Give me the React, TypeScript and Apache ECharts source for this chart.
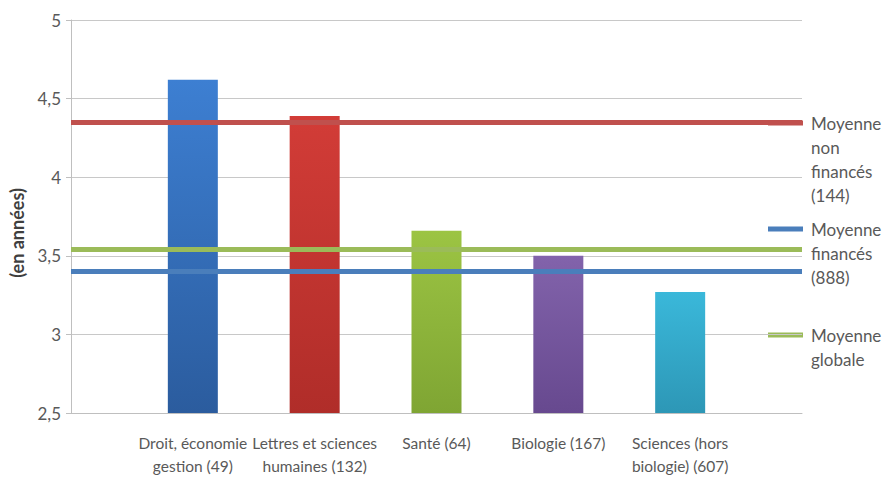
import React, { useEffect, useRef } from "react";
import * as echarts from "echarts";

const categories = [
  "Droit, économie\ngestion (49)",
  "Lettres et sciences\nhumaines (132)",
  "Santé (64)",
  "Biologie (167)",
  "Sciences (hors\nbiologie) (607)",
];
const durations = [4.62, 4.39, 3.66, 3.5, 3.27];
const barTopColors = ["#3d7fd2", "#d23c37", "#9cc443", "#8263ab", "#3ab8da"];
const barBottomColors = ["#2b5c9e", "#b02d29", "#7fa533", "#67498f", "#2d97b6"];

const averageNames = ["Moyenne non financés (144)", "Moyenne financés (888)", "Moyenne globale"];
const averageLegendLines = [
  ["Moyenne", "non", "financés", "(144)"],
  ["Moyenne", "financés", "(888)"],
  ["Moyenne", "globale"],
];
const averageValues = [4.35, 3.405, 3.535];
const averageColors = ["#c0504d", "#4a7ebb", "#9bbb59"];

const yTicks = { min: 2.5, max: 5, interval: 0.5 };
const yAxisTitle = "(en années)";

const TEXT = "#595959";
const FONT = "Lato, 'Open Sans', sans-serif";

export default function App() {
  const ref = useRef<HTMLDivElement>(null);
  useEffect(() => {
    if (!ref.current) return;
    const chart = echarts.init(ref.current, undefined, { renderer: "svg" });
    const axisCats = ["", ...categories, ""];
    const barData: any[] = ["-"];
    durations.forEach((v, i) =>
      barData.push({
        value: v,
        itemStyle: {
          color: new echarts.graphic.LinearGradient(0, 0, 0, 1, [
            { offset: 0, color: barTopColors[i] },
            { offset: 1, color: barBottomColors[i] },
          ]),
        },
      })
    );
    barData.push("-");

    const legendY = [123, 229, 335];
    const graphics: any[] = [
      {
        type: "text",
        x: 17,
        y: 233,
        rotation: Math.PI / 2,
        style: {
          text: yAxisTitle,
          fill: "#3f3f3f",
          font: `bold 18px ${FONT}`,
          align: "center",
          verticalAlign: "middle",
        },
      },
    ];
    averageLegendLines.forEach((lines, i) => {
      graphics.push({
        type: "line",
        shape: { x1: 768, y1: legendY[i], x2: 803, y2: legendY[i] },
        style: { stroke: averageColors[i], lineWidth: 5 },
      });
      graphics.push({
        type: "text",
        x: 811,
        y: legendY[i] - 12,
        style: {
          text: lines.join("\n"),
          fill: TEXT,
          font: `17px ${FONT}`,
          lineHeight: 24,
          verticalAlign: "top",
          align: "left",
        },
      });
    });

    chart.setOption({
      animation: false,
      backgroundColor: "#ffffff",
      textStyle: { fontFamily: FONT },
      grid: { left: 71, right: 89, top: 20, bottom: 68 },
      xAxis: {
        type: "category",
        data: axisCats,
        boundaryGap: false,
        axisLine: { lineStyle: { color: "#bfbfbf", width: 1 } },
        axisTick: { show: false },
        axisLabel: {
          interval: 0,
          color: TEXT,
          fontSize: 15.5,
          lineHeight: 23,
          margin: 18,
          fontFamily: FONT,
        },
        splitLine: { show: false },
      },
      yAxis: {
        type: "value",
        min: yTicks.min,
        max: yTicks.max,
        interval: yTicks.interval,
        axisLine: { show: true, lineStyle: { color: "#bfbfbf" } },
        axisTick: { show: true, length: 5, lineStyle: { color: "#bfbfbf" } },
        axisLabel: {
          color: TEXT,
          fontSize: 17,
          margin: 10,
          fontFamily: FONT,
          formatter: (v: number) => String(v).replace(".", ","),
        },
        splitLine: { lineStyle: { color: "#c8c8c8", width: 1 } },
      },
      series: [
        {
          type: "bar",
          name: "Durée",
          data: barData,
          barWidth: 50,
          z: 2,
        },
        ...averageNames.map((name, i) => ({
          type: "line",
          name,
          data: [],
          z: 3,
          markLine: {
            silent: true,
            symbol: "none",
            label: { show: false },
            lineStyle: { color: averageColors[i], width: 5, type: "solid" },
            data: [{ yAxis: averageValues[i] }],
          },
        })),
      ],
      graphic: graphics,
    });
    return () => chart.dispose();
  }, []);
  return <div ref={ref} style={{ width: 891, height: 481, position: "absolute", left: 0, top: 0 }} />;
}
